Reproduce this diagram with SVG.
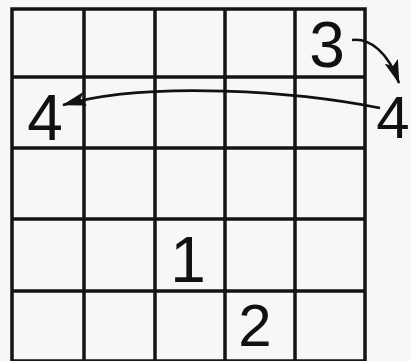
<svg xmlns="http://www.w3.org/2000/svg" width="411" height="361" viewBox="0 0 411 361">
<style>
.grid{stroke:#141414;stroke-width:3.5;fill:none}
.num{font-family:"Liberation Sans","DejaVu Sans",sans-serif;font-size:64px;fill:#111;text-anchor:middle}
.conn{stroke:#111;stroke-width:2.6;fill:none}
</style>
<defs>
<marker id="ah" markerUnits="userSpaceOnUse" viewBox="0 0 24 14" markerWidth="24" markerHeight="14" refX="23" refY="7" orient="auto" overflow="visible">
<path d="M0,0 L24,7 L0,14 L5,7 Z" fill="#111"/>
</marker>
</defs>
<rect width="411" height="361" fill="#f7f7f5"/>
<g id="grid" class="grid">
<rect x="12" y="9" width="353" height="352"/>
<path d="M84,9V361 M155,9V361 M225,9V361 M295,9V361"/>
<path d="M12,77H365 M12,148H365 M12,219H365 M12,291H365"/>
</g>
<g id="n3"><text class="num" x="327" y="67">3</text></g>
<g id="n4right"><text class="num" x="393" y="138" style="font-size:60px">4</text></g>
<g id="n4left"><text class="num" x="45" y="140">4</text></g>
<g id="n1"><text class="num" x="188" y="282">1</text></g>
<g id="n2"><text class="num" x="255" y="346" style="font-size:60px">2</text></g>
<g id="connectors">
<path class="conn" d="M352,40 C370,38 388,52 399,83" marker-end="url(#ah)"/>
<path class="conn" d="M380,108 C300,92 150,80 63,105" marker-end="url(#ah)"/>
</g>
</svg>
